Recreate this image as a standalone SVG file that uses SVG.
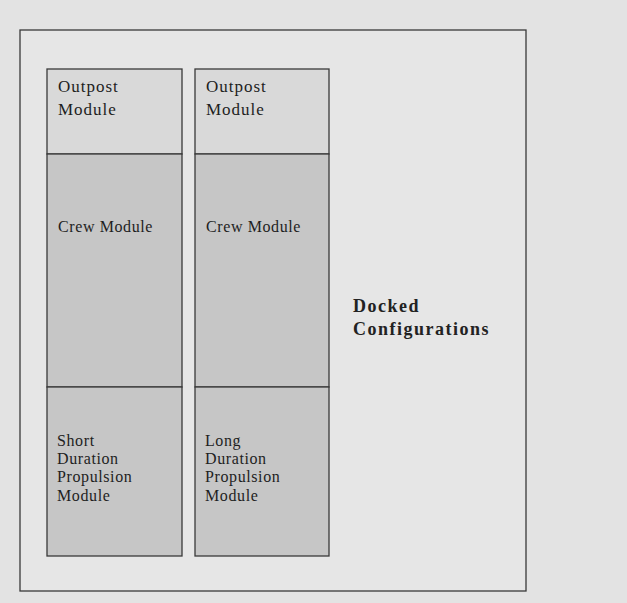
<svg xmlns="http://www.w3.org/2000/svg" width="627" height="603" viewBox="0 0 627 603">
<style>
.bx{stroke:#3a3a3a;stroke-width:1.3}
.top{fill:#d9d9d9}
.mid{fill:#c6c6c6}
.t{font-family:"Liberation Serif",serif;font-size:17px;fill:#1e1e1e;letter-spacing:1px}
.s{font-family:"Liberation Serif",serif;font-size:16px;fill:#1e1e1e;letter-spacing:0.6px}
.b{font-family:"Liberation Serif",serif;font-size:18px;font-weight:bold;fill:#222;letter-spacing:1.5px}
</style>
<rect width="627" height="603" fill="#e3e3e3"/>
<rect id="frame" x="20" y="30" width="506" height="561" fill="#e6e6e6" stroke="#3a3a3a" stroke-width="1.3"/>
<g id="left-column">
<g id="outpost-left"><rect class="bx top" x="47" y="69" width="135" height="85"/><text class="t" x="58" y="92">Outpost</text><text class="t" x="58" y="115">Module</text></g>
<g id="crew-left"><rect class="bx mid" x="47" y="154" width="135" height="233"/><text class="s" x="58" y="232">Crew Module</text></g>
<g id="prop-left"><rect class="bx mid" x="47" y="387" width="135" height="169"/><text class="s" x="57" y="446">Short</text><text class="s" x="57" y="464">Duration</text><text class="s" x="57" y="482">Propulsion</text><text class="s" x="57" y="501">Module</text></g>
</g>
<g id="right-column">
<g id="outpost-right"><rect class="bx top" x="195" y="69" width="134" height="85"/><text class="t" x="206" y="92">Outpost</text><text class="t" x="206" y="115">Module</text></g>
<g id="crew-right"><rect class="bx mid" x="195" y="154" width="134" height="233"/><text class="s" x="206" y="232">Crew Module</text></g>
<g id="prop-right"><rect class="bx mid" x="195" y="387" width="134" height="169"/><text class="s" x="205" y="446">Long</text><text class="s" x="205" y="464">Duration</text><text class="s" x="205" y="482">Propulsion</text><text class="s" x="205" y="501">Module</text></g>
</g>
<g id="label">
<text class="b" x="353" y="312">Docked</text>
<text class="b" x="353" y="335">Configurations</text>
</g>
<g id="connectors"/>
</svg>
